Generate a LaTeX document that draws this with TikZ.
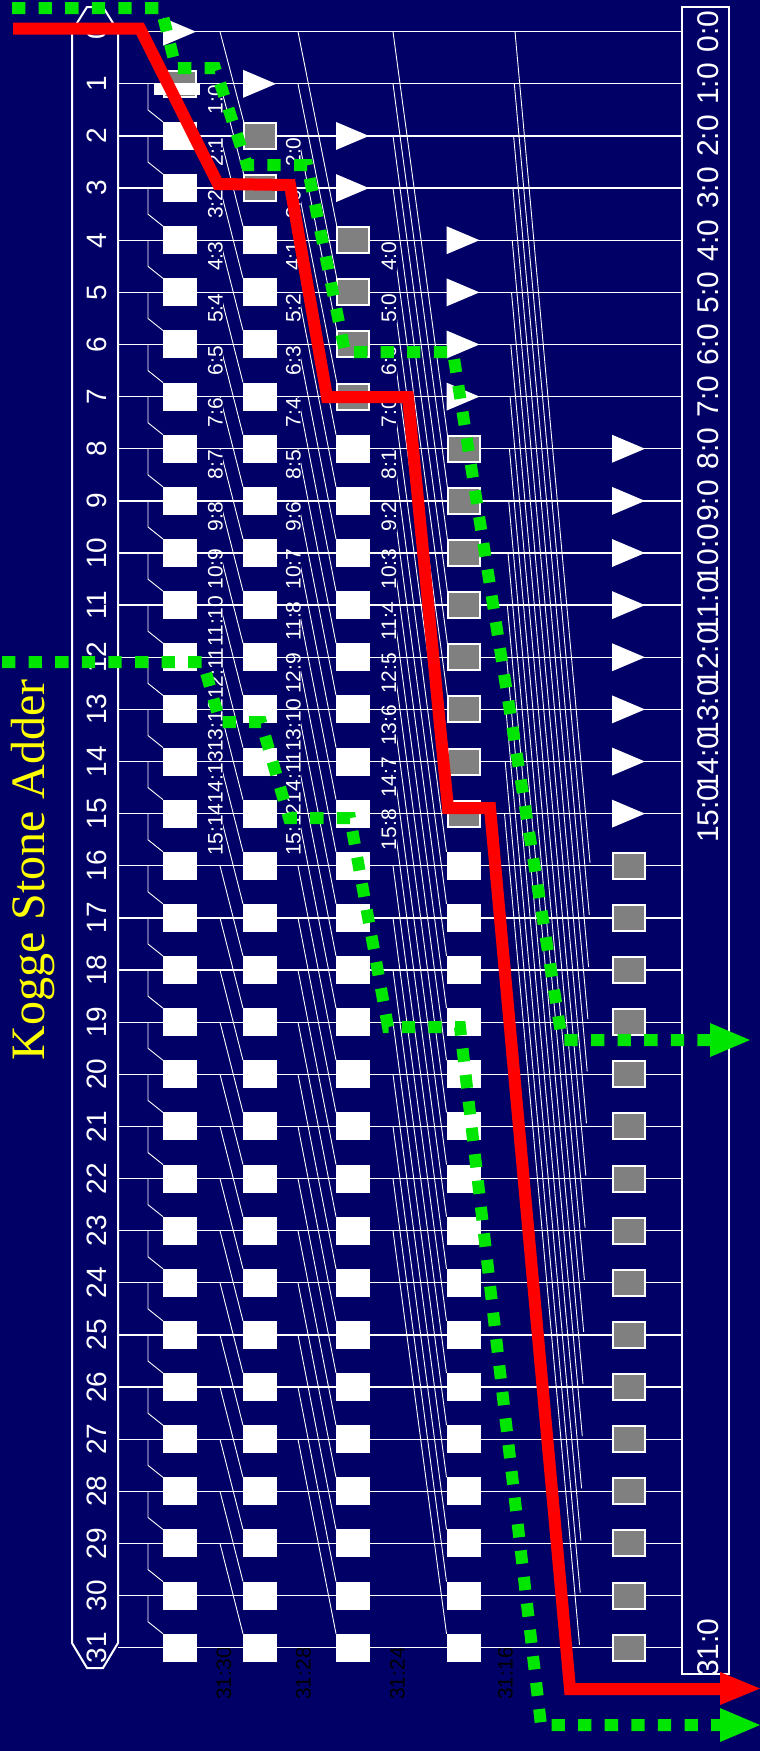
\documentclass[tikz,border=0pt]{standalone}
\usepackage{fontspec}
\setmainfont{Liberation Sans}
\newfontfamily\ttlfont{Liberation Serif}
\usetikzlibrary{calc}
\definecolor{bgc}{RGB}{0,0,102}
\definecolor{gcell}{RGB}{128,128,128}
\definecolor{hlg}{RGB}{0,230,0}
\definecolor{ttl}{RGB}{255,255,0}
\pgfdeclarelayer{back}
\pgfdeclarelayer{wirel}
\pgfdeclarelayer{labl}
\pgfdeclarelayer{rowl}
\pgfdeclarelayer{topl}
\pgfsetlayers{back,wirel,labl,rowl,main,topl}
\begin{document}
\begin{tikzpicture}[x=1pt,y=-1pt,
  rowline/.style={draw=white,line width=1.3pt},
  wire/.style={draw=white,line width=0.9pt},
  wcell/.style={fill=white,minimum width=34pt,minimum height=28pt,inner sep=0pt,outer sep=0pt},
  gcellst/.style={fill=gcell,draw=white,line width=2pt,minimum width=32pt,minimum height=26pt,inner sep=0pt,outer sep=0pt},
  slab/.style={rotate=90,text=white,fill=bgc,inner sep=0.5pt,font=\fontsize{21pt}{21pt}\selectfont},
  blab/.style={rotate=90,text=black,inner sep=0.5pt,font=\fontsize{21pt}{21pt}\selectfont},
  bitlab/.style={rotate=90,text=white,inner sep=0pt,font=\fontsize{28pt}{28pt}\selectfont},
  outlab/.style={rotate=90,text=white,inner sep=0pt,font=\fontsize{30pt}{30pt}\selectfont},
  redpath/.style={draw=red,line width=12pt,line join=miter},
  grpath/.style={draw=hlg,line width=12pt,dash pattern=on 13.3pt off 13.3pt},
  buf/.style={fill=white}
]
\useasboundingbox (0,0) rectangle (760,1751);
% row coordinates
\foreach \i in {0,...,31}{
  \pgfmathsetmacro\yy{31.7+52.13*\i}
  \coordinate (L\i) at (118,\yy);
  \coordinate (R\i) at (682,\yy);
}
\begin{pgfonlayer}{back}
\fill[bgc] (0,0) rectangle (760,1751);
\draw[white,line width=2pt] (72,1643) -- (72,31) -- (87,7) -- (103,7) -- (118,31) -- (118,1643) -- (103,1668) -- (87,1668) -- cycle;
\draw[white,line width=2.5pt] (682,7) rectangle (729,1674);
\node[rotate=90,anchor=base,text=ttl,inner sep=0pt,font=\ttlfont\fontsize{48pt}{48pt}\selectfont] (title) at (44,870) {Kogge Stone Adder};
\end{pgfonlayer}
% bit numbers and outputs
\foreach \i in {0,...,31} \node[bitlab] (b\i) at ($(L\i)+(-21,0)$) {\i};
\foreach \i in {0,...,15} \node[outlab] (o\i) at ($(L\i)+(590.5,0)$) {\i:0};
\node[outlab] (o31) at ($(L31)+(590.5,0)$) {31:0};
% cells column 1
\node[gcellst] (c1-1) at ($(L1)+(62,0)$) {};
\fill[white] (154,83) rectangle (200,95);
\foreach \i in {2,...,31} \node[wcell] (c1-\i) at ($(L\i)+(62,0)$) {};
% column 2
\foreach \i in {2,3} \node[gcellst] (c2-\i) at ($(L\i)+(142,0)$) {};
\foreach \i in {4,...,31} \node[wcell] (c2-\i) at ($(L\i)+(142,0)$) {};
% column 3
\foreach \i in {4,...,7} \node[gcellst] (c3-\i) at ($(L\i)+(235,0)$) {};
\foreach \i in {8,...,31} \node[wcell] (c3-\i) at ($(L\i)+(235,0)$) {};
% column 4
\foreach \i in {8,...,15} \node[gcellst] (c4-\i) at ($(L\i)+(345.5,0)$) {};
\foreach \i in {16,...,31} \node[wcell] (c4-\i) at ($(L\i)+(345.5,0)$) {};
% column 5
\foreach \i in {16,...,31} \node[gcellst] (c5-\i) at ($(L\i)+(511,0)$) {};
% buffers
\foreach \i/\dx in {0/62,1/142,2/235,3/235,4/345.5,5/345.5,6/345.5,7/345.5,8/511,9/511,10/511,11/511,12/511,13/511,14/511,15/511}{
  \coordinate (t\i) at ($(L\i)+(\dx,0)$);
  \fill[buf] ($(t\i)+(-17,-14)$) -- ($(t\i)+(16,0)$) -- ($(t\i)+(-17,14)$) -- cycle;
}
% wires
\begin{pgfonlayer}{wirel}
\foreach \i in {1,...,31}{
  \pgfmathtruncatemacro\j{\i-1}
  \draw[wire] ($(L\j)+(30,0)$) -- ($(c1-\i.north west)+(-15,-12)$) -- (c1-\i.north west);
}
\foreach \i in {2,...,31}{
  \pgfmathtruncatemacro\j{\i-2}
  \draw[wire] ($(L\j)+(102,0)$) -- (c2-\i.north west);
}
\foreach \i in {4,...,31}{
  \pgfmathtruncatemacro\j{\i-4}
  \draw[wire] ($(L\j)+(180,0)$) -- (c3-\i.north west);
}
\foreach \i in {8,...,31}{
  \pgfmathtruncatemacro\j{\i-8}
  \draw[wire] ($(L\j)+(275,0)$) -- (c4-\i.north west);
}
\foreach \i in {16,...,31}{
  \pgfmathtruncatemacro\j{\i-16}
  \pgfmathsetmacro\dd{0.7*(\i-16)}
  \draw[wire] ($(L\j)+(397-\dd,0)$) -- ($(L\i)+(472-\dd,-3)$);
}
\end{pgfonlayer}
% labels
\begin{pgfonlayer}{labl}
\foreach \i in {1,...,15}{
  \pgfmathtruncatemacro\j{\i-1}
  \node[slab] (la\i) at ($(L\i)+(97.5,16)$) {\i:\j};
}
\foreach \i in {2,3} \node[slab] (lb\i) at ($(L\i)+(175.5,16)$) {\i:0};
\foreach \i in {4,...,15}{
  \pgfmathtruncatemacro\j{\i-3}
  \node[slab] (lb\i) at ($(L\i)+(175.5,16)$) {\i:\j};
}
\foreach \i in {4,...,7} \node[slab] (lc\i) at ($(L\i)+(271,16)$) {\i:0};
\foreach \i in {8,...,15}{
  \pgfmathtruncatemacro\j{\i-7}
  \node[slab] (lc\i) at ($(L\i)+(271,16)$) {\i:\j};
}
\node[blab] (ka) at (224,1673.5) {31:30};
\node[blab] (kb) at (303.5,1673.5) {31:28};
\node[blab] (kc) at (397.5,1673.5) {31:24};
\node[blab] (kd) at (505.5,1673.5) {31:16};
\end{pgfonlayer}
% row lines
\begin{pgfonlayer}{rowl}
\foreach \i in {0,...,31} \draw[rowline] (L\i) -- (R\i);
\end{pgfonlayer}
% highlighted paths
\begin{pgfonlayer}{topl}
\coordinate (redS) at (13,28.5);
\coordinate (redE) at (724,1689);
\draw[redpath] (redS) -- (140,28.5) -- (218,184) -- (290,185) -- (327,397) -- (408,397) -- (448,808) -- (490,808) -- (570,1689) -- (redE);
\fill[red] (720,1672) -- (760,1688.5) -- (720,1705) -- cycle;
\coordinate (g1S) at (12,8);
\coordinate (g1E) at (712,1040);
\draw[grpath] (g1S) -- (161,8) -- (176,68) -- (215,68) -- (247,165) -- (307,165) -- (345,352) -- (453,352) -- (562,1040) -- (g1E);
\fill[hlg] (710,1023) -- (750,1040) -- (710,1057) -- cycle;
\coordinate (g2S) at (2,662);
\coordinate (g2E) at (722,1725);
\draw[grpath] (g2S) -- (203,662) -- (220,722) -- (261,722) -- (289,818) -- (350,818) -- (388,1027) -- (460,1027) -- (541,1725) -- (g2E);
\fill[hlg] (720,1708) -- (760,1725) -- (720,1742) -- cycle;
\end{pgfonlayer}
\end{tikzpicture}
\end{document}
